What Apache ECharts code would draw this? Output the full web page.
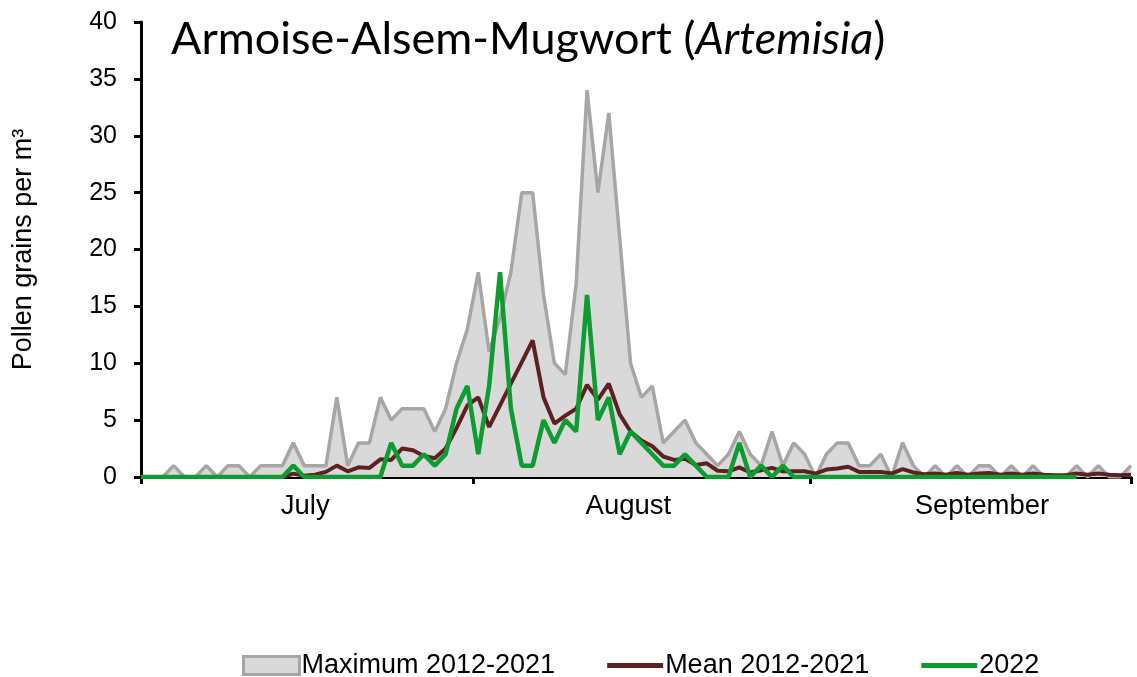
<!DOCTYPE html>
<html><head><meta charset="utf-8">
<script src="https://cdn.jsdelivr.net/npm/echarts@6/dist/echarts.min.js"></script>
<style>html,body{margin:0;padding:0;background:#fff}#c{width:1137px;height:677px}</style>
</head><body><div id="c"></div>
<script>
// Daily values, 1 July .. 30 September
const maxValues = [0,0,0,1,0,0,1,0,1,1, 0,1,1,1,3,1,1,1,7,1, 3,3,7,5,6,6,6,4,6,10,
  13,18,11,14,18,25,25,16,10,9, 17,34,25,32,21,10,7,8,3,4, 5,3,2,1,2,4,2,1,4,1,
  3,2,0,2,3,3,1,1,2,0, 3,1,0,1,0,1,0,1,1,0, 1,0,1,0,0,0,1,0,1,0, 0,1];
const meanValues = [0,0,0,0,0,0,0,0,0,0, 0,0,0,0,0.3,0.1,0.2,0.45,1.0,0.5, 0.85,0.8,1.55,1.5,2.5,2.35,1.85,1.65,2.5,4.3,
  6.3,7.0,4.4,6.3,8.2,10.1,12,7,4.7,5.4, 6.0,8.1,6.8,8.2,5.5,4.0,3.2,2.7,1.8,1.5, 1.6,1.05,1.2,0.55,0.5,0.85,0.4,0.6,0.8,0.5,
  0.5,0.5,0.3,0.65,0.75,0.9,0.45,0.45,0.45,0.3, 0.7,0.4,0.25,0.3,0.2,0.35,0.2,0.3,0.35,0.2, 0.3,0.2,0.3,0.2,0.15,0.15,0.3,0.2,0.3,0.2, 0.15,0.2];
const values2022 = [0,0,0,0,0,0,0,0,0,0, 0,0,0,0,1,0,0,0,0,0, 0,0,0,3,1,1,2,1,2,6,
  8,2,8,18,6,1,1,5,3,5, 4,16,5,7,2,4,3,2,1,1, 2,1,0,0,0,3,0,1,0,1,
  0,0,0,0,0,0,0,0,0,0, 0,0,0,0,0,0,0,0,0,0, 0,0,0,0,0,0,0];
const monthNames = ['July', 'August', 'September'];
const monthLabelPos = [15.1, 44.8, 77.3];
const monthTickPos = [0, 30.5, 61.5, 91];
const legendNames = ['Maximum 2012-2021', 'Mean 2012-2021', '2022'];

const days = [];
const monthLens = [31, 31, 30];
monthLens.forEach((n, m) => { for (let d = 1; d <= n; d++) days.push((m + 7) + '-' + d); });

const colMaxLine = '#A6A6A6', colMaxFill = '#D9D9D9', colMean = '#5E2121', colNow = '#0E9C31';
const lineIcon = 'path://M0,0H56V5H0Z';

const chart = echarts.init(document.getElementById('c'), null, {renderer: 'canvas'});
const font = 'Liberation Sans, Arial, sans-serif';
chart.setOption({
  animation: false,
  backgroundColor: '#fff',
  title: {
    text: '{n|Armoise-Alsem-Mugwort (}{i|Artemisia}{n|)}',
    left: 166, top: 12,
    textStyle: {
      fontWeight: 'normal',
      rich: {
        n: {fontFamily: 'Lato', fontSize: 45, fontWeight: 'normal', color: '#000'},
        i: {fontFamily: 'Lato', fontSize: 45, fontWeight: 'normal', fontStyle: 'italic', color: '#000'}
      }
    }
  },
  legend: {
    left: 237, top: 647,
    itemWidth: 56, itemHeight: 18, itemGap: 52,
    symbolKeepAspect: true,
    textStyle: {fontFamily: font, fontSize: 27, color: '#000', padding: [0, 0, 0, -3]},
    data: [
      {name: legendNames[0], icon: 'rect', itemStyle: {color: colMaxFill, borderColor: colMaxLine, borderWidth: 3}},
      {name: legendNames[1], icon: lineIcon, itemStyle: {color: colMean, borderWidth: 0}},
      {name: legendNames[2], icon: lineIcon, itemStyle: {color: colNow, borderWidth: 0}}
    ]
  },
  grid: {left: 141, right: 6, top: 22, bottom: 200, containLabel: false},
  xAxis: [
    {type: 'category', data: days, boundaryGap: false, show: false},
    {
      type: 'value', min: 0, max: days.length - 1, position: 'bottom',
      axisLine: {show: true, onZero: false, lineStyle: {color: '#000', width: 3}},
      axisTick: {show: true, customValues: monthTickPos, length: 7, lineStyle: {color: '#000', width: 3}},
      axisLabel: {
        customValues: monthLabelPos, fontFamily: font, fontSize: 27.5, color: '#000', margin: 15,
        formatter: v => {
          let best = 0;
          monthLabelPos.forEach((p, k) => { if (Math.abs(p - v) < Math.abs(monthLabelPos[best] - v)) best = k; });
          return monthNames[best];
        }
      },
      splitLine: {show: false}
    }
  ],
  yAxis: {
    type: 'value', min: 0, max: 40, interval: 5,
    name: 'Pollen grains per m³', nameLocation: 'middle', nameGap: 104, nameRotate: 90,
    nameTextStyle: {fontFamily: font, fontSize: 27, color: '#000'},
    axisLine: {show: true, lineStyle: {color: '#000', width: 3}},
    axisTick: {show: true, length: 7, lineStyle: {color: '#000', width: 3}},
    axisLabel: {fontFamily: font, fontSize: 25, color: '#000', margin: 24},
    splitLine: {show: false}
  },
  series: [
    {
      name: legendNames[0], type: 'line', xAxisIndex: 0, data: maxValues, symbol: 'none', z: 1,
      lineStyle: {color: colMaxLine, width: 3.5}, itemStyle: {color: colMaxLine},
      areaStyle: {color: colMaxFill, opacity: 1}
    },
    {
      name: legendNames[1], type: 'line', xAxisIndex: 0, data: meanValues, symbol: 'none', z: 2,
      lineStyle: {color: colMean, width: 4}, itemStyle: {color: colMean}
    },
    {
      name: legendNames[2], type: 'line', xAxisIndex: 0, data: values2022, symbol: 'none', z: 3,
      lineStyle: {color: colNow, width: 4.5}, itemStyle: {color: colNow}
    }
  ]
});
</script>
</body></html>
